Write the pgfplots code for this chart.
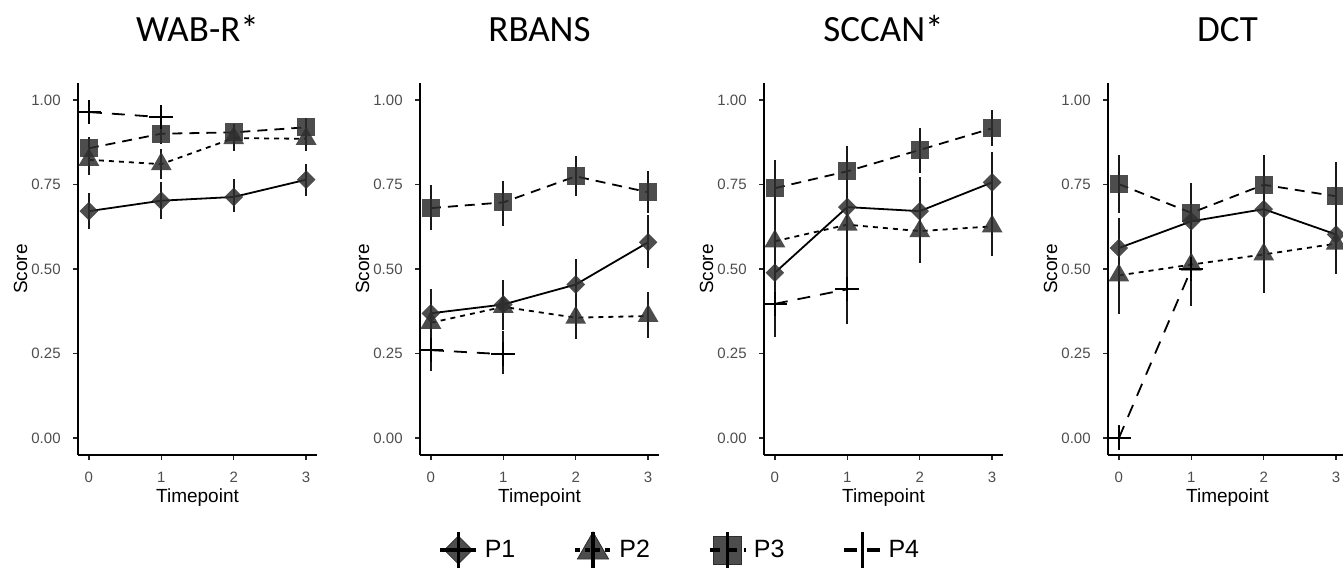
\documentclass[border=0pt]{standalone}
\usepackage{pgfplots}
\pgfplotsset{compat=1.18}
\usepackage{fontspec}
\setmainfont{Liberation Sans}
\newfontfamily\carlito{Carlito}
\definecolor{tickgray}{HTML}{4D4D4D}
\definecolor{markgray}{HTML}{2E2E2E}
\tikzset{mk/.style={solid, fill=markgray, fill opacity=0.85, draw opacity=0}}
\pgfplotsset{
  panel/.style={
    scale only axis, width=119.5pt, height=186pt,
    xmin=-0.15, xmax=3.15, ymin=-0.05, ymax=1.05,
    axis x line*=bottom, axis y line*=left,
    axis line style={-, line width=0.8pt, black},
    xtick={0,1,2,3}, ytick={0,0.25,0.5,0.75,1},
    xticklabels={0,1,2,3},
    yticklabels={0.00,0.25,0.50,0.75,1.00},
    tick align=outside, major tick length=2.5pt,
    tick style={line width=0.7pt, black!85},
    ticklabel style={font=\fontsize{7.5}{9}\selectfont, text=tickgray},
    xticklabel style={anchor=base, inner sep=0pt, yshift=-11.5pt},
    yticklabel style={anchor=east, inner sep=0pt, xshift=-6pt},
    xlabel=Timepoint, ylabel=Score,
    label style={font=\fontsize{9.5}{11}\selectfont},
    xlabel style={at={([yshift=-24pt]axis description cs:0.5,0)}, anchor=base},
    ylabel style={at={([xshift=-25.5pt]axis description cs:0,0.5)}, anchor=base},
    title style={at={([yshift=14.5pt]axis description cs:0.5,1)}, anchor=base, font=\carlito\fontsize{18.5}{20}\selectfont},
    clip=false,
  },
  sP1/.style={black, line width=0.9pt, solid, mark=square*, mark size=3.3pt, mark options={rotate=45, mk}},
  sP2/.style={black, line width=0.9pt, dash pattern=on 2.5pt off 2.5pt, mark=triangle*, mark size=6pt, mark options={mk}},
  sP3/.style={black, line width=0.9pt, dash pattern=on 5pt off 3.5pt, mark=square*, mark size=4.5pt, mark options={mk}},
  sP4/.style={black, line width=0.9pt, dash pattern=on 6.5pt off 5pt, mark=+, mark size=6pt, mark options={solid, line width=0.9pt}},
  eb/.style={draw=none, mark=none, forget plot, error bars/.cd, y dir=both, y explicit, error mark=none, error bar style={draw=black!90, solid, line width=1.1pt}},
}
\begin{document}
\begin{tikzpicture}
\path[use as bounding box] (0,0) rectangle (671.5pt,288pt);

% ---------- WAB-R* ----------
\begin{axis}[panel, at={(39pt,60.5pt)}, anchor=south west, title={WAB-R*}]
\addplot[sP1] coordinates {(0,0.671) (1,0.702) (2,0.713) (3,0.764)};
\addplot[sP2] coordinates {(0,0.823) (1,0.810) (2,0.887) (3,0.885)};
\addplot[sP3] coordinates {(0,0.857) (1,0.900) (2,0.904) (3,0.919)};
\addplot[sP4] coordinates {(0,0.964) (1,0.949)};
\addplot[eb] coordinates {(0,0.671) += (0,0.054) -= (0,0.054) (1,0.702) += (0,0.055) -= (0,0.054) (2,0.713) += (0,0.053) -= (0,0.045) (3,0.764) += (0,0.047) -= (0,0.049)};
\addplot[eb] coordinates {(0,0.823) += (0,0.044) -= (0,0.044) (1,0.810) += (0,0.045) -= (0,0.045) (2,0.887) += (0,0.040) -= (0,0.037) (3,0.885) += (0,0.035) -= (0,0.035)};
\addplot[eb] coordinates {(0,0.857) += (0,0.033) -= (0,0.034) (1,0.900) += (0,0.030) -= (0,0.030) (2,0.904) += (0,0.026) -= (0,0.029) (3,0.919) += (0,0.026) -= (0,0.024)};
\addplot[eb] coordinates {(0,0.964) += (0,0.034) -= (0,0.033) (1,0.949) += (0,0.036) -= (0,0.038)};
\end{axis}

% ---------- RBANS ----------
\begin{axis}[panel, at={(210pt,60.5pt)}, anchor=south west, title={RBANS},
  legend columns=4,
  legend style={at={(1.092,-0.2554)}, anchor=center, draw=none, fill=none,
    font=\fontsize{12.5}{14}\selectfont,
    /tikz/every even column/.append style={column sep=27pt}}]
\addlegendimage{legend image code/.code={
  \fill[markgray, fill opacity=0.85] (9pt,-7pt) -- (16pt,0) -- (9pt,7pt) -- (2pt,0) -- cycle;
  \draw[black, line width=1.6pt] (0pt,0) -- (18pt,0);
  \draw[black, line width=1.6pt] (9pt,-9pt) -- (9pt,9pt);
  \path (20pt,0);}}
\addlegendimage{legend image code/.code={
  \fill[markgray, fill opacity=0.85] ([shift={(9pt,0)}]90:9pt) -- ([shift={(9pt,0)}]210:9pt) -- ([shift={(9pt,0)}]330:9pt) -- cycle;
  \draw[black, line width=1.6pt, dash pattern=on 2.5pt off 2.5pt] (0pt,0) -- (18pt,0);
  \draw[black, line width=1.6pt] (9pt,-9pt) -- (9pt,9pt);
  \path (20pt,0);}}
\addlegendimage{legend image code/.code={
  \fill[markgray, fill opacity=0.85] (2pt,-7pt) rectangle (16pt,7pt);
  \draw[black, line width=1.6pt, dash pattern=on 5pt off 3.5pt] (0pt,0) -- (18pt,0);
  \draw[black, line width=1.6pt] (9pt,-9pt) -- (9pt,9pt);
  \path (20pt,0);}}
\addlegendimage{legend image code/.code={
  \draw[black, line width=1.6pt, dash pattern=on 6.5pt off 5pt] (0pt,0) -- (18pt,0);
  \draw[black, line width=1.6pt] (9pt,-9pt) -- (9pt,9pt);
  \path (20pt,0);}}
\legend{P1,P2,P3,P4}
\addplot[sP1] coordinates {(0,0.369) (1,0.395) (2,0.454) (3,0.579)};
\addplot[sP2] coordinates {(0,0.341) (1,0.388) (2,0.356) (3,0.361)};
\addplot[sP3] coordinates {(0,0.680) (1,0.697) (2,0.774) (3,0.727)};
\addplot[sP4] coordinates {(0,0.260) (1,0.248)};
\addplot[eb] coordinates {(0,0.369) += (0,0.071) -= (0,0.067) (1,0.395) += (0,0.072) -= (0,0.069) (2,0.454) += (0,0.076) -= (0,0.073) (3,0.579) += (0,0.082) -= (0,0.076)};
\addplot[eb] coordinates {(0,0.341) += (0,0.069) -= (0,0.071) (1,0.388) += (0,0.067) -= (0,0.068) (2,0.356) += (0,0.076) -= (0,0.064) (3,0.361) += (0,0.071) -= (0,0.064)};
\addplot[eb] coordinates {(0,0.680) += (0,0.069) -= (0,0.065) (1,0.697) += (0,0.064) -= (0,0.071) (2,0.774) += (0,0.061) -= (0,0.059) (3,0.727) += (0,0.062) -= (0,0.061)};
\addplot[eb] coordinates {(0,0.260) += (0,0.071) -= (0,0.061) (1,0.248) += (0,0.069) -= (0,0.059)};
\end{axis}

% ---------- SCCAN* ----------
\begin{axis}[panel, at={(382pt,60.5pt)}, anchor=south west, title={SCCAN*}]
\addplot[sP1] coordinates {(0,0.489) (1,0.683) (2,0.671) (3,0.756)};
\addplot[sP2] coordinates {(0,0.582) (1,0.631) (2,0.612) (3,0.626)};
\addplot[sP3] coordinates {(0,0.739) (1,0.789) (2,0.852) (3,0.916)};
\addplot[sP4] coordinates {(0,0.397) (1,0.440)};
\addplot[eb] coordinates {(0,0.489) += (0,0.190) -= (0,0.190) (1,0.683) += (0,0.180) -= (0,0.160) (2,0.671) += (0,0.100) -= (0,0.100) (3,0.756) += (0,0.090) -= (0,0.090)};
\addplot[eb] coordinates {(0,0.582) += (0,0.100) -= (0,0.090) (1,0.631) += (0,0.100) -= (0,0.100) (2,0.612) += (0,0.090) -= (0,0.094) (3,0.626) += (0,0.094) -= (0,0.088)};
\addplot[eb] coordinates {(0,0.739) += (0,0.082) -= (0,0.079) (1,0.789) += (0,0.073) -= (0,0.074) (2,0.852) += (0,0.066) -= (0,0.068) (3,0.916) += (0,0.053) -= (0,0.052)};
\addplot[eb] coordinates {(0,0.397) += (0,0.093) -= (0,0.097) (1,0.440) += (0,0.098) -= (0,0.104)};
\end{axis}

% ---------- DCT ----------
\begin{axis}[panel, at={(554pt,60.5pt)}, anchor=south west, title={DCT}]
\addplot[sP1] coordinates {(0,0.562) (1,0.641) (2,0.677) (3,0.602)};
\addplot[sP2] coordinates {(0,0.481) (1,0.513) (2,0.543) (3,0.575)};
\addplot[sP3] coordinates {(0,0.751) (1,0.666) (2,0.749) (3,0.715)};
\addplot[sP4] coordinates {(0,0.000) (1,0.500)};
\addplot[eb] coordinates {(0,0.562) += (0,0.090) -= (0,0.090) (1,0.641) += (0,0.113) -= (0,0.110) (2,0.677) += (0,0.093) -= (0,0.097) (3,0.602) += (0,0.090) -= (0,0.080)};
\addplot[eb] coordinates {(0,0.481) += (0,0.086) -= (0,0.115) (1,0.513) += (0,0.100) -= (0,0.123) (2,0.543) += (0,0.100) -= (0,0.113) (3,0.575) += (0,0.090) -= (0,0.091)};
\addplot[eb] coordinates {(0,0.751) += (0,0.087) -= (0,0.085) (1,0.666) += (0,0.070) -= (0,0.066) (2,0.749) += (0,0.089) -= (0,0.089) (3,0.715) += (0,0.100) -= (0,0.100)};
\addplot[eb] coordinates {(0,0.000) += (0,0.040) -= (0,0.030) (1,0.500) += (0,0.050) -= (0,0.050)};
\end{axis}
\end{tikzpicture}
\end{document}
